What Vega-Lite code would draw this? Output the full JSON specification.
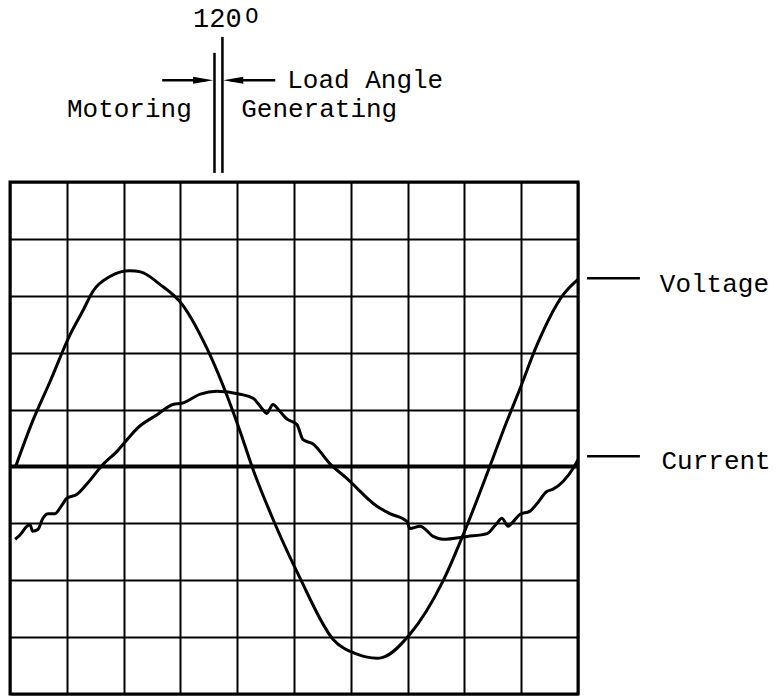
{
  "$schema": "https://vega.github.io/schema/vega-lite/v6.json",
  "width": 568,
  "height": 512,
  "autosize": {"type": "none"},
  "padding": {"left": 10, "top": 182, "right": 202, "bottom": 2},
  "background": "white",
  "config": {
    "view": {"stroke": "black", "strokeWidth": 3},
    "axis": {"domain": false, "ticks": false, "labels": false, "grid": true, "gridColor": "black", "gridWidth": 2, "gridOpacity": 1},
    "text": {"font": "Liberation Mono", "fill": "black"}
  },
  "datasets": {
    "curves": [
      {"series": "Voltage", "x": 0.1, "y": 0},
      {"series": "Voltage", "x": 0.4, "y": 0.8},
      {"series": "Voltage", "x": 0.7, "y": 1.48},
      {"series": "Voltage", "x": 1.06, "y": 2.32},
      {"series": "Voltage", "x": 1.29, "y": 2.75},
      {"series": "Voltage", "x": 1.46, "y": 3.08},
      {"series": "Voltage", "x": 1.76, "y": 3.34},
      {"series": "Voltage", "x": 2.11, "y": 3.44},
      {"series": "Voltage", "x": 2.3, "y": 3.42},
      {"series": "Voltage", "x": 2.64, "y": 3.2},
      {"series": "Voltage", "x": 3.03, "y": 2.85},
      {"series": "Voltage", "x": 3.47, "y": 2.07},
      {"series": "Voltage", "x": 4.05, "y": 0.62},
      {"series": "Voltage", "x": 4.26, "y": 0},
      {"series": "Voltage", "x": 4.67, "y": -1.02},
      {"series": "Voltage", "x": 5.1, "y": -1.95},
      {"series": "Voltage", "x": 5.69, "y": -3.04},
      {"series": "Voltage", "x": 6.11, "y": -3.3},
      {"series": "Voltage", "x": 6.46, "y": -3.37},
      {"series": "Voltage", "x": 6.55, "y": -3.36},
      {"series": "Voltage", "x": 7.04, "y": -2.95},
      {"series": "Voltage", "x": 7.62, "y": -2.02},
      {"series": "Voltage", "x": 8.06, "y": -1.0},
      {"series": "Voltage", "x": 8.5, "y": 0.14},
      {"series": "Voltage", "x": 8.68, "y": 0.62},
      {"series": "Voltage", "x": 8.98, "y": 1.37},
      {"series": "Voltage", "x": 9.28, "y": 2.14},
      {"series": "Voltage", "x": 9.74, "y": 3.02},
      {"series": "Voltage", "x": 10.0, "y": 3.29},
      {"series": "Current", "x": 0.09, "y": -1.28},
      {"series": "Current", "x": 0.18, "y": -1.2},
      {"series": "Current", "x": 0.3, "y": -1.05},
      {"series": "Current", "x": 0.35, "y": -1.02},
      {"series": "Current", "x": 0.4, "y": -1.14},
      {"series": "Current", "x": 0.49, "y": -1.11},
      {"series": "Current", "x": 0.58, "y": -0.91},
      {"series": "Current", "x": 0.67, "y": -0.83},
      {"series": "Current", "x": 0.79, "y": -0.83},
      {"series": "Current", "x": 0.92, "y": -0.67},
      {"series": "Current", "x": 1.0, "y": -0.56},
      {"series": "Current", "x": 1.18, "y": -0.49},
      {"series": "Current", "x": 1.36, "y": -0.3},
      {"series": "Current", "x": 1.64, "y": 0.04},
      {"series": "Current", "x": 1.88, "y": 0.26},
      {"series": "Current", "x": 2.06, "y": 0.47},
      {"series": "Current", "x": 2.24, "y": 0.67},
      {"series": "Current", "x": 2.59, "y": 0.91},
      {"series": "Current", "x": 2.87, "y": 1.09},
      {"series": "Current", "x": 3.03, "y": 1.11},
      {"series": "Current", "x": 3.35, "y": 1.27},
      {"series": "Current", "x": 3.64, "y": 1.32},
      {"series": "Current", "x": 4.05, "y": 1.27},
      {"series": "Current", "x": 4.28, "y": 1.2},
      {"series": "Current", "x": 4.45, "y": 1.0},
      {"series": "Current", "x": 4.52, "y": 0.93},
      {"series": "Current", "x": 4.63, "y": 1.09},
      {"series": "Current", "x": 4.75, "y": 0.97},
      {"series": "Current", "x": 4.88, "y": 0.83},
      {"series": "Current", "x": 5.05, "y": 0.74},
      {"series": "Current", "x": 5.16, "y": 0.47},
      {"series": "Current", "x": 5.33, "y": 0.4},
      {"series": "Current", "x": 5.63, "y": 0.05},
      {"series": "Current", "x": 5.93, "y": -0.21},
      {"series": "Current", "x": 6.46, "y": -0.7},
      {"series": "Current", "x": 6.69, "y": -0.83},
      {"series": "Current", "x": 6.99, "y": -0.97},
      {"series": "Current", "x": 7.04, "y": -1.09},
      {"series": "Current", "x": 7.22, "y": -1.05},
      {"series": "Current", "x": 7.45, "y": -1.23},
      {"series": "Current", "x": 7.62, "y": -1.28},
      {"series": "Current", "x": 8.05, "y": -1.23},
      {"series": "Current", "x": 8.4, "y": -1.18},
      {"series": "Current", "x": 8.57, "y": -1.0},
      {"series": "Current", "x": 8.66, "y": -0.91},
      {"series": "Current", "x": 8.77, "y": -1.05},
      {"series": "Current", "x": 8.86, "y": -0.97},
      {"series": "Current", "x": 8.98, "y": -0.84},
      {"series": "Current", "x": 9.15, "y": -0.79},
      {"series": "Current", "x": 9.28, "y": -0.65},
      {"series": "Current", "x": 9.45, "y": -0.44},
      {"series": "Current", "x": 9.56, "y": -0.4},
      {"series": "Current", "x": 9.74, "y": -0.26},
      {"series": "Current", "x": 9.91, "y": -0.04},
      {"series": "Current", "x": 10.0, "y": 0.12}
    ],
    "segments": [
      {"part": "motoring limit", "x": 3.6, "x2": 3.6, "y": 5.16, "y2": 7.27},
      {"part": "generating limit", "x": 3.74, "x2": 3.74, "y": 5.16, "y2": 7.55},
      {"part": "left arrow", "x": 2.68, "x2": 3.45, "y": 6.79, "y2": 6.79},
      {"part": "right arrow", "x": 3.88, "x2": 4.67, "y": 6.79, "y2": 6.79},
      {"part": "voltage tick", "x": 10.16, "x2": 11.09, "y": 3.31, "y2": 3.31},
      {"part": "current tick", "x": 10.16, "x2": 11.09, "y": 0.18, "y2": 0.18}
    ]
  },
  "encoding": {
    "x": {"type": "quantitative", "scale": {"domain": [0, 10], "nice": false, "zero": false}},
    "y": {"type": "quantitative", "scale": {"domain": [-4, 5], "nice": false, "zero": false}}
  },
  "layer": [
    {
      "data": {"values": [{"g": 0}]},
      "mark": {"type": "point", "opacity": 0},
      "encoding": {
        "x": {"field": "g", "type": "quantitative", "axis": {"title": null, "values": [0, 1, 2, 3, 4, 5, 6, 7, 8, 9, 10]}},
        "y": {"field": "g", "type": "quantitative", "axis": {"title": null, "values": [-4, -3, -2, -1, 0, 1, 2, 3, 4, 5]}}
      }
    },
    {
      "data": {"values": [{"level": 0}]},
      "mark": {"type": "rule", "color": "black", "strokeWidth": 4},
      "encoding": {"y": {"field": "level", "type": "quantitative"}}
    },
    {
      "data": {"name": "curves"},
      "mark": {"type": "line", "color": "black", "strokeWidth": 3, "interpolate": "monotone"},
      "encoding": {
        "x": {"field": "x", "type": "quantitative"},
        "y": {"field": "y", "type": "quantitative"},
        "detail": {"field": "series"}
      }
    },
    {
      "data": {"name": "segments"},
      "mark": {"type": "rule", "color": "black", "strokeWidth": 2.5},
      "encoding": {
        "x": {"field": "x", "type": "quantitative"},
        "x2": {"field": "x2"},
        "y": {"field": "y", "type": "quantitative"},
        "y2": {"field": "y2"}
      }
    },
    {
      "data": {"values": [{"x": 3.4, "y": 6.79}]},
      "mark": {"type": "point", "shape": "M -1 -0.35 L 1 0 L -1 0.35 Z", "filled": true, "color": "black", "opacity": 1, "size": 400},
      "encoding": {"x": {"field": "x", "type": "quantitative"}, "y": {"field": "y", "type": "quantitative"}}
    },
    {
      "data": {"values": [{"x": 3.93, "y": 6.79}]},
      "mark": {"type": "point", "shape": "M 1 -0.35 L -1 0 L 1 0.35 Z", "filled": true, "color": "black", "opacity": 1, "size": 400},
      "encoding": {"x": {"field": "x", "type": "quantitative"}, "y": {"field": "y", "type": "quantitative"}}
    },
    {
      "data": {"values": [{"x": 3.65, "y": 7.72, "label": "120"}]},
      "mark": {"type": "text", "fontSize": 27, "align": "center", "baseline": "alphabetic"},
      "encoding": {"x": {"field": "x", "type": "quantitative"}, "y": {"field": "y", "type": "quantitative"}, "text": {"field": "label"}}
    },
    {
      "data": {"values": [{"x": 4.14, "y": 7.8, "label": "O"}]},
      "mark": {"type": "text", "fontSize": 22, "align": "left", "baseline": "alphabetic"},
      "encoding": {"x": {"field": "x", "type": "quantitative"}, "y": {"field": "y", "type": "quantitative"}, "text": {"field": "label"}}
    },
    {
      "data": {"values": [
        {"x": 4.88, "y": 6.65, "label": "Load Angle"},
        {"x": 4.07, "y": 6.14, "label": "Generating"},
        {"x": 11.44, "y": 3.07, "label": "Voltage"},
        {"x": 11.47, "y": -0.05, "label": "Current"}
      ]},
      "mark": {"type": "text", "fontSize": 26, "align": "left", "baseline": "alphabetic"},
      "encoding": {"x": {"field": "x", "type": "quantitative"}, "y": {"field": "y", "type": "quantitative"}, "text": {"field": "label"}}
    },
    {
      "data": {"values": [{"x": 3.2, "y": 6.14, "label": "Motoring"}]},
      "mark": {"type": "text", "fontSize": 26, "align": "right", "baseline": "alphabetic"},
      "encoding": {"x": {"field": "x", "type": "quantitative"}, "y": {"field": "y", "type": "quantitative"}, "text": {"field": "label"}}
    }
  ]
}
